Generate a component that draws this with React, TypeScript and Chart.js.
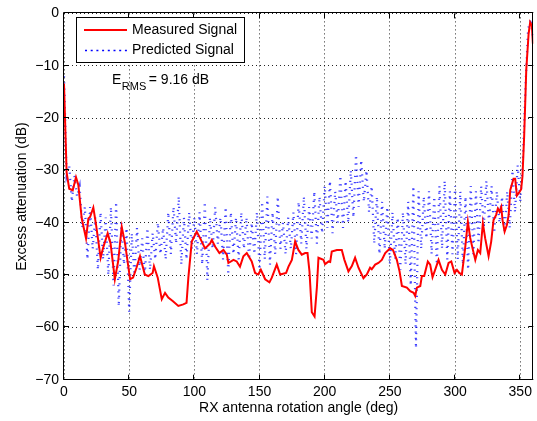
import React, { useEffect, useRef } from "react";
import { Chart, registerables } from "chart.js";

Chart.register(...registerables);

const FONT = "'Liberation Sans', Arial, Helvetica, sans-serif";

const xTicks = [0, 50, 100, 150, 200, 250, 300, 350];
const yTicks = [0, -10, -20, -30, -40, -50, -60, -70];

const measuredAngles = [
  0, 2, 4, 6.7, 9.2, 11, 13.6, 16.9, 18.7, 20, 22.5, 24.6, 28.1, 30, 33.5, 35.7, 39, 41.6, 44.3, 46.8,
  50.7, 53, 55.6, 58.3, 62, 64.7, 68, 69, 71.9, 75, 77.5, 80, 83.6, 87.7, 91.5, 94, 95.4, 98, 101.8, 104.3,
  108.2, 112, 113.4, 116, 119.2, 122.3, 124.9, 126.1, 130, 132.5, 135, 137.6, 140.2, 144, 146.6, 149, 151, 154.3, 157.6, 159.4,
  163.2, 165.8, 170.4, 172.2, 174.8, 177.3, 179.8, 182.4, 185, 186.8, 188.3, 190.1, 192.2, 194, 195.2, 199, 200.3, 203, 204.2, 205.4,
  209.3, 213.1, 215.1, 218.2, 220.8, 223.3, 225.9, 229.7, 232.3, 234.8, 236.1, 238.7, 241.2, 243.8, 246.4, 250.2, 252.3, 255.3, 257.4, 259.2,
  263, 265.6, 268.2, 269.4, 270.7, 273.3, 274.5, 276.3, 279.1, 280.9, 282.7, 284.7, 287.3, 289.9, 292.5, 295, 297.1, 299.6, 301.4, 303.2,
  305.2, 307.7, 309.8, 311.6, 313.4, 315.5, 317.5, 319.3, 321.3, 323.1, 325.7, 327.7, 329.5, 331.5, 332.8, 334.1, 335.4, 336.4, 338, 339.8,
  341.1, 342.3, 344.8, 346.1, 347.4, 349.2, 350.7, 351.7, 353, 354.6, 356.4, 357.6, 358.9, 359.7,
];
const measuredValues = [
  -13.4, -30.4, -33.5, -33.8, -31.3, -32.8, -39.2, -43, -39.2, -38.9, -37.1, -40.4, -46.7, -44.8, -42, -43.9, -50.8, -47.3, -40.8, -43.9,
  -50.8, -50.5, -48.6, -46.4, -49.9, -50.2, -49.6, -48.3, -50.5, -54.6, -53.4, -54.3, -55, -55.9, -55.6, -55.3, -50.5, -43.6, -41.7, -42.9,
  -44.9, -44, -43.3, -44.6, -45.8, -45.2, -46.1, -47.7, -47.1, -47.4, -48.4, -46.4, -45.8, -47.4, -49.6, -49.9, -49, -50.8, -51.4, -50.5,
  -48, -49.9, -49.6, -48.4, -47.1, -43.6, -45.2, -46.1, -45.8, -45.8, -49.3, -57.1, -57.9, -52.3, -46.7, -47.1, -47.9, -47.4, -47.5, -45.5,
  -45.2, -45.2, -47.1, -49.3, -48.3, -46.7, -48.6, -50.6, -49.9, -48.6, -48.9, -48, -47.7, -47.1, -45.8, -44.9, -45.2, -47.1, -49.3, -52.1,
  -52.4, -53.1, -53.4, -54, -52.4, -52.1, -50.2, -50.2, -47.4, -48, -50.4, -49, -47.1, -49, -49.9, -47.7, -47.4, -49.6, -49, -49.6,
  -49.9, -44.9, -39.8, -42.9, -44.9, -47.1, -45.2, -45.8, -40.1, -43, -46.4, -43.6, -39.5, -38.5, -37.3, -37.9, -37, -39.5, -41.7, -40.4,
  -38.5, -33.8, -31.6, -31.6, -34.8, -34.2, -33.6, -31.1, -23.4, -10.8, -3.9, -1.7, -2.3, -5.8,
];

const predictedAngles = [
  0, 2, 4, 6, 8, 10, 12, 14, 16, 18,
  20, 22, 24, 26, 28, 30, 32, 34, 36, 38,
  40, 42, 44, 46, 48, 50, 52, 54, 56, 58,
  60, 62, 64, 66, 68, 70, 72, 74, 76, 78,
  80, 82, 84, 86, 88, 90, 92, 94, 96, 98,
  100, 102, 104, 106, 108, 110, 112, 114, 116, 118,
  120, 122, 124, 126, 128, 130, 132, 134, 136, 138,
  140, 142, 144, 146, 148, 150, 152, 154, 156, 158,
  160, 162, 164, 166, 168, 170, 172, 174, 176, 178,
  180, 182, 184, 186, 188, 190, 192, 194, 196, 198,
  200, 202, 204, 206, 208, 210, 212, 214, 216, 218,
  220, 222, 224, 226, 228, 230, 232, 234, 236, 238,
  240, 242, 244, 246, 248, 250, 252, 254, 256, 258,
  260, 262, 264, 266, 268, 270, 272, 274, 276, 278,
  280, 282, 284, 286, 288, 290, 292, 294, 296, 298,
  300, 302, 304, 306, 308, 310, 312, 314, 316, 318,
  320, 322, 324, 326, 328, 330, 332, 334, 336, 338,
  340, 342, 344, 346, 348, 350, 352, 354, 356, 358,
  360,
];
const predictedValues = [
  -12, -31, -29, -36, -31, -35, -33, -41, -37, -47,
  -37, -45, -39, -49, -38, -47, -39, -50, -37, -52,
  -36, -56, -40, -48, -41, -57, -42, -50, -41, -49,
  -43, -50, -41, -49, -42, -47, -40, -46, -41, -47,
  -38, -46, -37, -44, -35, -48, -39, -47, -38, -45,
  -39, -46, -38, -48, -36, -51, -39, -45, -37, -44,
  -39, -47, -37, -50, -38, -46, -39, -47, -38, -45,
  -39, -47, -40, -46, -38, -49, -36, -47, -35, -48,
  -38, -46, -35, -45, -40, -46, -39, -45, -38, -46,
  -36, -44, -35, -45, -37, -43, -34, -44, -35, -42,
  -33, -41, -32, -42, -34, -40, -31, -41, -32, -40,
  -30, -39, -27, -37, -28, -36, -30, -38, -33, -44,
  -35, -46, -36, -45, -37, -48, -38, -47, -39, -49,
  -38, -48, -36, -52, -33, -64, -34, -45, -35, -43,
  -34, -46, -35, -48, -33, -45, -32, -47, -34, -46,
  -33, -47, -34, -48, -35, -49, -33, -46, -34, -44,
  -33, -41, -32, -40, -33, -42, -34, -40, -35, -42,
  -34, -41, -30, -38, -29, -36, -28, -14, -3, -1,
  -5,
];

const legendLabels = ["Measured Signal", "Predicted Signal"];
const errorLabel = { main: "E", sub: "RMS", rest: "= 9.16 dB" };

const framePlugin = {
  id: "matlabFrame",
  afterDatasetsDraw(chart: any) {
    const { ctx, chartArea, scales } = chart;
    const { left, top, right, bottom } = chartArea;
    const xs = scales.x;
    const ys = scales.y;
    ctx.save();
    ctx.setLineDash([]);
    ctx.strokeStyle = "#000";
    ctx.lineWidth = 1;
    ctx.beginPath();
    ctx.rect(Math.round(left) - 0.5, Math.round(top) - 0.5, Math.round(right) - Math.round(left), Math.round(bottom) - Math.round(top));
    ctx.stroke();
    const tl = 5;
    ctx.beginPath();
    xTicks.forEach((v) => {
      const px = Math.round(xs.getPixelForValue(v)) - 0.5;
      ctx.moveTo(px, bottom);
      ctx.lineTo(px, bottom - tl);
      ctx.moveTo(px, top);
      ctx.lineTo(px, top + tl);
    });
    yTicks.forEach((v) => {
      const py = Math.round(ys.getPixelForValue(v)) - 0.5;
      ctx.moveTo(left, py);
      ctx.lineTo(left + tl, py);
      ctx.moveTo(right, py);
      ctx.lineTo(right - tl, py);
    });
    ctx.stroke();

    // legend box
    const bx = 76, by = 17, bw = 168, bh = 45;
    ctx.fillStyle = "#fff";
    ctx.fillRect(bx, by, bw, bh);
    ctx.strokeStyle = "#000";
    ctx.strokeRect(bx + 0.5, by + 0.5, bw, bh);
    ctx.lineWidth = 1.8;
    ctx.strokeStyle = "#ff0000";
    ctx.beginPath();
    ctx.moveTo(84, 30);
    ctx.lineTo(127, 30);
    ctx.stroke();
    ctx.strokeStyle = "#0000ff";
    ctx.lineWidth = 1.6;
    ctx.setLineDash([2, 3.7]);
    ctx.beginPath();
    ctx.moveTo(85, 50.5);
    ctx.lineTo(128, 50.5);
    ctx.stroke();
    ctx.setLineDash([]);
    ctx.fillStyle = "#000";
    ctx.font = `14px ${FONT}`;
    ctx.textBaseline = "middle";
    ctx.textAlign = "left";
    ctx.fillText(legendLabels[0], 132, 30);
    ctx.fillText(legendLabels[1], 132, 50.5);

    // E_RMS annotation
    ctx.textBaseline = "alphabetic";
    ctx.font = `14px ${FONT}`;
    const ex = 112;
    ctx.fillText(errorLabel.main, ex, 83.5);
    const ew = ctx.measureText(errorLabel.main).width;
    ctx.font = `11px ${FONT}`;
    ctx.fillText(errorLabel.sub, ex + ew + 0.5, 89.5);
    const sw = ctx.measureText(errorLabel.sub).width;
    ctx.font = `14px ${FONT}`;
    ctx.fillText(errorLabel.rest, ex + ew + sw + 3, 83.5);
    ctx.restore();
  },
};

export default function App() {
  const ref = useRef<HTMLCanvasElement>(null);
  useEffect(() => {
    if (!ref.current) return;
    const font = { family: FONT, size: 14 };
    const chart = new Chart(ref.current, {
      type: "line",
      data: {
        datasets: [
          {
            label: legendLabels[0],
            data: measuredAngles.map((x, i) => ({ x, y: measuredValues[i] })),
            borderColor: "#ff0000",
            backgroundColor: "#ff0000",
            borderWidth: 2,
            pointRadius: 0,
            tension: 0,
            order: 0,
          },
          {
            label: legendLabels[1],
            data: predictedAngles.map((x, i) => ({ x, y: predictedValues[i] })),
            borderColor: "rgba(0,0,255,0.75)",
            backgroundColor: "#0000ff",
            borderWidth: 2.2,
            borderDash: [1.2, 5],
            borderCapStyle: "butt",
            pointRadius: 0,
            tension: 0,
            order: 1,
          },
        ],
      },
      options: {
        animation: false,
        responsive: false,
        devicePixelRatio: 1,
        layout: { padding: { top: 9.4, right: 3.7, left: 0, bottom: 0 } },
        plugins: { legend: { display: false }, tooltip: { enabled: false } },
        scales: {
          x: {
            type: "linear",
            min: 0,
            max: 360,
            afterBuildTicks: (s: any) => {
              s.ticks = xTicks.map((v) => ({ value: v }));
            },
            afterFit: (s: any) => {
              s.height = 41.3;
            },
            ticks: { font, color: "#000", padding: 4, maxRotation: 0, autoSkip: false },
            grid: { color: "rgba(0,0,0,0.85)", lineWidth: 1, drawTicks: false },
            border: { display: false, dash: [1, 3] },
            title: {
              display: true,
              text: "RX antenna rotation angle (deg)",
              font,
              color: "#000",
              padding: { top: 0, bottom: 4 },
            },
          },
          y: {
            type: "linear",
            min: -70,
            max: 0,
            afterBuildTicks: (s: any) => {
              s.ticks = yTicks.map((v) => ({ value: v }));
            },
            afterFit: (s: any) => {
              s.width = 64;
            },
            ticks: {
              font,
              color: "#000",
              padding: 5,
              autoSkip: false,
              callback: (v: any) => (v < 0 ? "\u2212" + Math.abs(v) : String(v)),
            },
            grid: { color: "rgba(0,0,0,0.85)", lineWidth: 1, drawTicks: false },
            border: { display: false, dash: [1, 3] },
            title: {
              display: true,
              text: "Excess attenuation (dB)",
              font,
              color: "#000",
              padding: { top: 13.6, bottom: 0 },
            },
          },
        },
      },
      plugins: [framePlugin],
    } as any);
    return () => chart.destroy();
  }, []);
  return (
    <div style={{ position: "fixed", left: 0, top: 0, width: 537, height: 421, background: "#fff" }}>
      <canvas ref={ref} width={537} height={421} style={{ display: "block", width: 537, height: 421 }} />
    </div>
  );
}
